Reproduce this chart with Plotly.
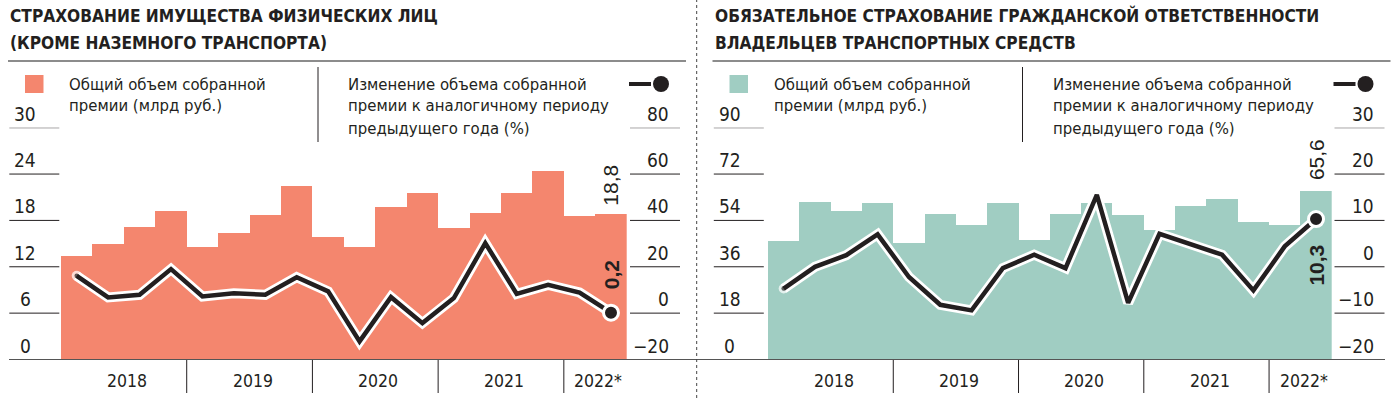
import plotly.graph_objects as go

W, H = 1399, 398

# ---------------- data ----------------
years = ["2018", "2019", "2020", "2021", "2022*"]
quarters_per_year = [4, 4, 4, 4, 2]

left_title = ["СТРАХОВАНИЕ ИМУЩЕСТВА ФИЗИЧЕСКИХ ЛИЦ", "(КРОМЕ НАЗЕМНОГО ТРАНСПОРТА)"]
right_title = ["ОБЯЗАТЕЛЬНОЕ СТРАХОВАНИЕ ГРАЖДАНСКОЙ ОТВЕТСТВЕННОСТИ", "ВЛАДЕЛЬЦЕВ ТРАНСПОРТНЫХ СРЕДСТВ"]
bar_legend = ["Общий объем собранной", "премии (млрд руб.)"]
line_legend = ["Изменение объема собранной", "премии к аналогичному периоду", "предыдущего года (%)"]

left_bars = [13.4, 15.0, 17.1, 19.25, 14.5, 16.4, 18.7, 22.4, 15.9, 14.5, 19.8, 21.6,
             17.0, 18.9, 21.6, 24.4, 18.6, 18.8]
left_line = [16.1, 6.8, 7.9, 19.0, 7.2, 8.6, 7.9, 15.5, 9.4, -12.2, 6.9, -4.3,
             6.5, 30.2, 8.3, 12.2, 8.9, 0.2]
right_bars = [46.2, 61.3, 57.8, 60.9, 45.3, 56.6, 52.3, 60.9, 46.5, 56.6, 60.9, 56.2,
              50.1, 59.7, 62.3, 53.5, 52.3, 65.6]
right_line = [-4.7, 0.0, 2.5, 7.0, -2.2, -8.2, -9.4, -0.3, 2.6, -0.3, 15.5, -7.8,
              7.1, 4.9, 2.6, -5.1, 4.4, 10.3]

left_bar_ticks = [0, 6, 12, 18, 24, 30]
left_line_ticks = [-20, 0, 20, 40, 60, 80]
right_bar_ticks = [0, 18, 36, 54, 72, 90]
right_line_ticks = [-20, -10, 0, 10, 20, 30]

left_color = "#F4866E"
right_color = "#A0CDC2"
ink = "#231F20"
FONT = "DejaVu Sans Condensed, Roboto, sans-serif"

# ---------------- helpers ----------------
def px(x):
    return x / W


def py(y):
    return 1 - y / H


n = len(left_bars)
idx = list(range(n))
Y_BASE, Y_TOP = 359.5, 127.7
ydom = [py(Y_BASE), py(Y_TOP)]

panels = [
    dict(off=0.0, xa="x", ya="y", ya2="y2", bx0=61.0, bx1=626.7,
         bars=left_bars, line=left_line, color=left_color,
         bt=left_bar_ticks, lt=left_line_ticks, title=left_title,
         bar_lab_shift=7, line_lab_above=True),
    dict(off=704.5, xa="x2", ya="y3", ya2="y4", bx0=768.0, bx1=1331.7,
         bars=right_bars, line=right_line, color=right_color,
         bt=right_bar_ticks, lt=right_line_ticks, title=right_title,
         bar_lab_shift=8, line_lab_above=False),
]

fig = go.Figure()
shapes = []
annos = []


def fmt(v):
    return f"{v:.1f}".replace(".", ",")


for p in panels:
    o = p["off"]
    fig.add_trace(go.Bar(x=idx, y=p["bars"], width=1.0, marker=dict(color=p["color"], line=dict(width=0)),
                         xaxis=p["xa"], yaxis=p["ya"], showlegend=False, hoverinfo="skip"))
    halo_sizes = [10] + [0] * (n - 1)
    fig.add_trace(go.Scatter(x=idx, y=p["line"], mode="lines+markers",
                             line=dict(color="white", width=10),
                             marker=dict(color="white", size=halo_sizes, line=dict(width=0)),
                             xaxis=p["xa"], yaxis=p["ya2"], showlegend=False, hoverinfo="skip"))
    core_sizes = [4.5] + [0] * (n - 1)
    fig.add_trace(go.Scatter(x=idx, y=p["line"], mode="lines+markers",
                             line=dict(color=ink, width=4.5),
                             marker=dict(color=ink, size=core_sizes, line=dict(width=0)),
                             xaxis=p["xa"], yaxis=p["ya2"], showlegend=False, hoverinfo="skip"))
    fig.add_trace(go.Scatter(x=[idx[-1]], y=[p["line"][-1]], mode="markers",
                             marker=dict(color=ink, size=15, line=dict(color="white", width=3)),
                             xaxis=p["xa"], yaxis=p["ya2"], showlegend=False, hoverinfo="skip"))

    annos.append(dict(x=idx[-1], y=p["bars"][-1], xref=p["xa"], yref=p["ya"], text=fmt(p["bars"][-1]),
                      textangle=-90, showarrow=False, xanchor="center", yanchor="bottom",
                      yshift=p["bar_lab_shift"], font=dict(family="Liberation Sans", size=21, color=ink)))
    annos.append(dict(x=idx[-1], y=p["line"][-1], xref=p["xa"], yref=p["ya2"],
                      text="<b>" + fmt(p["line"][-1]) + "</b>",
                      textangle=-90, showarrow=False, xanchor="center",
                      yanchor="bottom" if p["line_lab_above"] else "top",
                      yshift=22 if p["line_lab_above"] else -24,
                      font=dict(family="Liberation Sans", size=21, color=ink)))

    for t in p["bt"]:
        if t != p["bt"][0]:
            shapes.append(dict(type="line", xref="paper", yref=p["ya"], x0=px(9.3 + o), x1=px(59.3 + o),
                               y0=t, y1=t, line=dict(color=ink, width=1)))
        annos.append(dict(x=px(25 + o), y=t, xref="paper", yref=p["ya"], text=str(t), showarrow=False,
                          xanchor="center", yanchor="bottom", yshift=1,
                          font=dict(family=FONT, size=19, color=ink)))
    for t in p["lt"]:
        if t != p["lt"][0]:
            shapes.append(dict(type="line", xref="paper", yref=p["ya2"], x0=px(630 + o), x1=px(680 + o),
                               y0=t, y1=t, line=dict(color=ink, width=1)))
        lab = str(t).replace("-", "\u2212")
        annos.append(dict(x=px(671 + o), y=t, xref="paper", yref=p["ya2"], text=lab, showarrow=False,
                          xanchor="right", yanchor="bottom", yshift=1,
                          font=dict(family=FONT, size=19, color=ink)))

    start = 0
    for i, (yr, q) in enumerate(zip(years, quarters_per_year)):
        if i > 0:
            shapes.append(dict(type="line", xref=p["xa"], yref="paper", x0=start - 0.5, x1=start - 0.5,
                               y0=py(Y_BASE), y1=py(393), line=dict(color=ink, width=1)))
        annos.append(dict(x=start + (q - 1) / 2 + 0.1, y=py(381), xref=p["xa"], yref="paper", text=yr,
                          showarrow=False, xanchor="center", yanchor="middle",
                          font=dict(family=FONT, size=17.5, color=ink)))
        start += q

    for k, line in enumerate(p["title"]):
        annos.append(dict(x=px(8 + o), y=py(16 + 27 * k), xref="paper", yref="paper",
                          text="<b>" + line + "</b>", showarrow=False, xanchor="left", yanchor="middle",
                          font=dict(family=FONT, size=17.2, color=ink)))
    shapes.append(dict(type="line", xref="paper", yref="paper", x0=px(8 + o), x1=px(686 + o),
                       y0=py(61), y1=py(61), line=dict(color="#666666", width=1.5)))
    shapes.append(dict(type="rect", xref="paper", yref="paper", x0=px(25 + o), x1=px(43.5 + o),
                       y0=py(93), y1=py(75), line=dict(width=0), fillcolor=p["color"]))
    for k, line in enumerate(bar_legend):
        annos.append(dict(x=px(67 + o), y=py(84 + 22 * k), xref="paper", yref="paper", text=line,
                          showarrow=False, xanchor="left", yanchor="middle",
                          font=dict(family=FONT, size=16.6, color=ink)))
    for k, line in enumerate(line_legend):
        annos.append(dict(x=px(346 + o), y=py(84 + 22 * k), xref="paper", yref="paper", text=line,
                          showarrow=False, xanchor="left", yanchor="middle",
                          font=dict(family=FONT, size=16.6, color=ink)))
    shapes.append(dict(type="line", xref="paper", yref="paper", x0=px(318 + o), x1=px(318 + o),
                       y0=py(67), y1=py(142), line=dict(color=ink, width=1)))
    shapes.append(dict(type="line", xref="paper", yref="paper", x0=px(629 + o), x1=px(651 + o),
                       y0=py(84), y1=py(84), line=dict(color=ink, width=4)))
    shapes.append(dict(type="circle", xref="paper", yref="paper", x0=px(653 + o), x1=px(669 + o),
                       y0=py(92), y1=py(76), line=dict(width=0), fillcolor=ink))

shapes.append(dict(type="line", xref="paper", yref="paper", x0=px(9), x1=px(1385),
                   y0=py(Y_BASE), y1=py(Y_BASE), line=dict(color="#555555", width=1.2)))
shapes.append(dict(type="line", xref="paper", yref="paper", x0=px(696.7), x1=px(696.7),
                   y0=0, y1=1, line=dict(color="#444444", width=1, dash="dot")))

axis_off = dict(visible=False, fixedrange=True)
fig.update_layout(
    width=W, height=H, margin=dict(l=0, r=0, t=0, b=0),
    paper_bgcolor="white", plot_bgcolor="rgba(0,0,0,0)",
    bargap=0, showlegend=False,
    xaxis=dict(domain=[px(61.0), px(626.7)], range=[-0.5, n - 0.5], **axis_off),
    yaxis=dict(domain=ydom, range=[0, 30], anchor="x", **axis_off),
    yaxis2=dict(domain=ydom, range=[-20, 80], overlaying="y", anchor="x", **axis_off),
    xaxis2=dict(domain=[px(768.0), px(1331.7)], range=[-0.5, n - 0.5], anchor="y3", **axis_off),
    yaxis3=dict(domain=ydom, range=[0, 90], anchor="x2", **axis_off),
    yaxis4=dict(domain=ydom, range=[-20, 30], overlaying="y3", anchor="x2", **axis_off),
    shapes=shapes, annotations=annos,
)

fig.write_html(
    "out.html",
    config={"displayModeBar": False, "staticPlot": True},
    post_script="document.body.style.margin='0';document.body.style.padding='0';document.body.style.overflow='hidden';",
)
